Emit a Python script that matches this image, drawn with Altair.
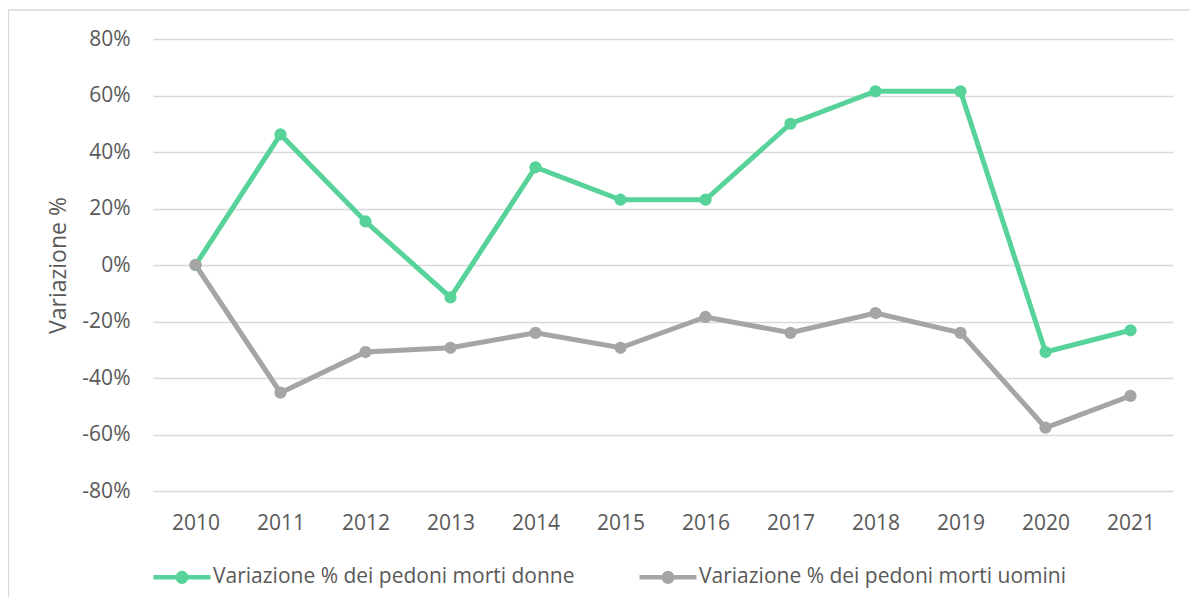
import altair as alt
import pandas as pd

years = ["2010", "2011", "2012", "2013", "2014", "2015", "2016", "2017", "2018", "2019", "2020", "2021"]
donne = [0, 46.2, 15.4, -11.5, 34.6, 23.1, 23.1, 50.0, 61.5, 61.5, -30.8, -23.1]
uomini = [0, -45.2, -30.8, -29.3, -24.0, -29.3, -18.4, -24.0, -17.0, -24.0, -57.6, -46.3]
series_names = ["Variazione % dei pedoni morti donne", "Variazione % dei pedoni morti uomini"]
series_colors = ["#57D399", "#A5A5A5"]
y_ticks = [-80, -60, -40, -20, 0, 20, 40, 60, 80]

rows = []
for name, vals in zip(series_names, [donne, uomini]):
    for yr, v in zip(years, vals):
        rows.append({"Anno": yr, "Serie": name, "Valore": v})
df = pd.DataFrame(rows)

FONT = "Open Sans"
TXT = "#595959"
GRID = "#D9D9D9"

legend_symbol = ("M-1,0 L1,0 "
                 "M0.15,0 A0.15,0.15 0 1,1 -0.15,0 A0.15,0.15 0 1,1 0.15,0 Z "
                 "M0.07,0 A0.07,0.07 0 1,1 -0.07,0 A0.07,0.07 0 1,1 0.07,0 Z")

lines = alt.Chart(df).mark_line(
    strokeWidth=5,
    point=alt.OverlayMarkDef(filled=True, size=150),
).encode(
    x=alt.X("Anno:O", sort=years,
            scale=alt.Scale(type="point", padding=0.5),
            axis=alt.Axis(title=None, domain=False, ticks=False, grid=False,
                          labelAngle=0, labelPadding=32, labelBaseline="middle",
                          labelFontSize=21, labelColor=TXT, labelFont=FONT)),
    y=alt.Y("Valore:Q",
            scale=alt.Scale(domain=[-80, 80], nice=False, zero=False),
            axis=alt.Axis(title="Variazione %", values=y_ticks,
                          labelExpr="datum.value + '%'",
                          domain=False, ticks=False, grid=True,
                          gridColor=GRID, gridWidth=1.3,
                          labelPadding=23, labelFontSize=21, labelColor=TXT, labelFont=FONT,
                          titleFontSize=23, titleFont=FONT, titleColor=TXT,
                          titleFontWeight="normal", titlePadding=11)),
    color=alt.Color("Serie:N",
                    scale=alt.Scale(domain=series_names, range=series_colors),
                    legend=alt.Legend(title=None, orient="none", direction="horizontal",
                                      columns=2, legendX=-2, legendY=507,
                                      symbolType=legend_symbol, symbolSize=3249,
                                      symbolStrokeWidth=4.5,
                                      labelFontSize=21, labelFont=FONT, labelColor=TXT,
                                      labelLimit=600, labelOffset=0, columnPadding=55,
                                      padding=0)),
    order=alt.Order("Serie:N"),
)

dummy = pd.DataFrame({"a": [0]})
frame_top = alt.Chart(dummy).mark_rule(color=GRID, strokeWidth=1.3).encode(
    x=alt.value(-145), x2=alt.value(1100), y=alt.value(-29))
frame_left = alt.Chart(dummy).mark_rule(color=GRID, strokeWidth=1.3).encode(
    x=alt.value(-144.5), y=alt.value(-29), y2=alt.value(700))

chart = alt.layer(frame_top, frame_left, lines).properties(
    width=1020, height=452,
    autosize=alt.AutoSizeParams(type="none"),
    padding={"left": 145, "top": 31, "right": 17, "bottom": 106},
    background="white",
).configure_view(strokeWidth=0)

chart.save("out.html", embed_options={"renderer": "svg", "actions": False})
